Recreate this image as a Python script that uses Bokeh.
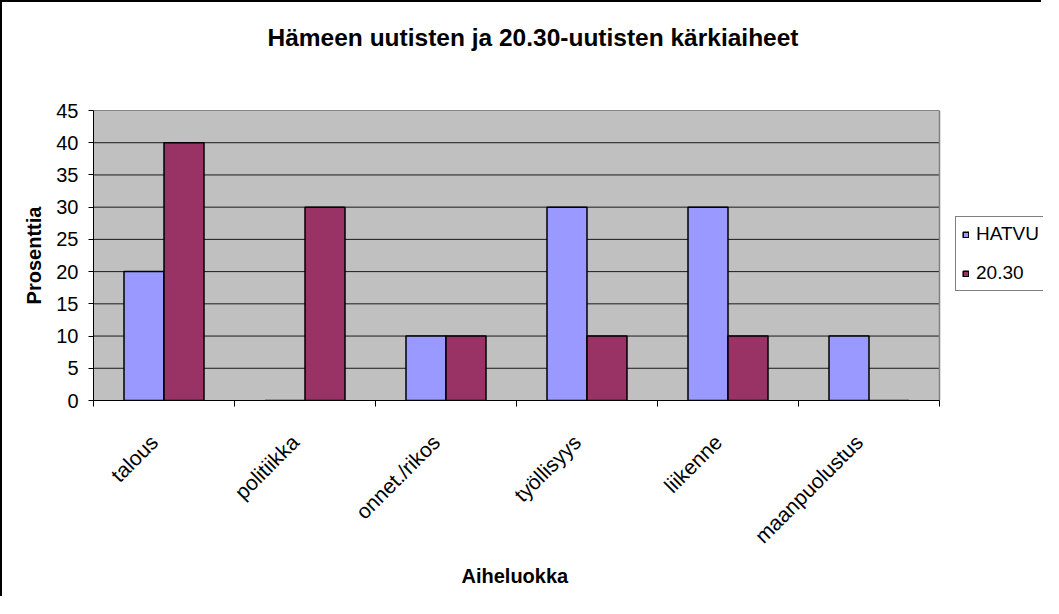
import numpy as np
from math import pi
from bokeh.plotting import figure
from bokeh.models import (ColumnDataSource, FixedTicker, Legend, LegendItem,
                          Range1d, Title)
from bokeh.transform import dodge
from bokeh.embed import file_html
from bokeh.resources import INLINE

# ---- data ----
categories = ["talous", "politiikka", "onnet./rikos", "työllisyys",
              "liikenne", "maanpuolustus"]
hatvu = [20, 0, 10, 30, 30, 10]
uutiset_2030 = [40, 30, 10, 10, 10, 0]
series_names = ["HATVU", "20.30"]
y_ticks = [0, 5, 10, 15, 20, 25, 30, 35, 40, 45]
title_text = "Hämeen uutisten ja 20.30-uutisten kärkiaiheet"
x_title = "Aiheluokka"
y_title = "Prosenttia"

FONT = "Liberation Sans"
n = len(categories)
ymax = y_ticks[-1]
centers = [i + 0.5 for i in range(n)]
label_shift = 0.07  # labels end slightly left of the category centre
label_pos = [c - label_shift for c in centers]

# layout (pixels)
W, H = 1041, 596
LEFT, TOP, BOTTOM = 91, 108, 198
PLOT_W = 846                      # width of the grey plot area
FRAME_W = W - LEFT                # frame runs to the right edge (legend lives there)
x_end = n * FRAME_W / PLOT_W

src = ColumnDataSource(dict(cat=categories, x=centers, hatvu=hatvu,
                            u2030=uutiset_2030))

p = figure(width=W, height=H, x_range=Range1d(0, x_end),
           y_range=Range1d(0, ymax), output_backend="svg",
           toolbar_location=None, min_border_left=LEFT, min_border_right=0,
           min_border_top=TOP, min_border_bottom=BOTTOM)
p.styles = {"border-left": "2px solid black", "border-top": "2px solid black"}

p.background_fill_color = "white"
p.border_fill_color = "white"
p.outline_line_color = None
p.xgrid.visible = False
p.ygrid.visible = False

# grey plot area, grid lines and right edge
p.quad(left=0, right=n, bottom=0, top=ymax, fill_color="#C0C0C0",
       line_color=None)
p.segment(x0=[0] * len(y_ticks), x1=[n] * len(y_ticks), y0=y_ticks,
          y1=y_ticks, line_color="#1a1a1a", line_width=1)
p.segment(x0=[n], x1=[n], y0=[0], y1=[ymax], line_color="#808080",
          line_width=1.5)

# thin spacer next to the frame, then the real title above it
p.title.text = ""
spacer_title = Title(text=" ", text_font_size="2px", standoff=40,
                     text_color="white")
p.add_layout(spacer_title, "above")
main_title = Title(text=title_text, align="left", offset=174, standoff=32,
                   text_font=FONT, text_font_size="24.5px",
                   text_font_style="bold", text_color="black")
p.add_layout(main_title, "above")

bw = 0.2837
r1 = p.vbar(x=dodge("x", -bw / 2), top="hatvu", width=bw, source=src,
            fill_color="#9999FF", line_color="black", line_width=1.5)
r2 = p.vbar(x=dodge("x", bw / 2), top="u2030", width=bw, source=src,
            fill_color="#993366", line_color="black", line_width=1.5)

# y axis
ya = p.yaxis[0]
ya.ticker = FixedTicker(ticks=y_ticks)
ya.major_tick_out = 5
ya.major_tick_in = 0
ya.minor_tick_out = 0
ya.axis_line_color = "black"
ya.major_label_text_font = FONT
ya.major_label_text_font_size = "20px"
ya.major_label_text_color = "black"
ya.major_label_standoff = 10
ya.axis_label = y_title
ya.axis_label_text_font = FONT
ya.axis_label_text_font_size = "20px"
ya.axis_label_text_font_style = "bold"
ya.axis_label_text_color = "black"
ya.axis_label_standoff = 8

# x axis
xa = p.xaxis[0]
xa.bounds = (0, n)
xa.ticker = FixedTicker(ticks=label_pos, minor_ticks=list(range(n + 1)))
xa.major_label_overrides = {c: lab for c, lab in zip(label_pos, categories)}
xa.major_tick_out = 0
xa.major_tick_in = 0
xa.minor_tick_out = 6
xa.minor_tick_in = 0
xa.minor_tick_line_color = "black"
xa.axis_line_color = "black"
xa.major_label_orientation = pi / 4
xa.major_label_text_font = FONT
xa.major_label_text_font_size = "21px"
xa.major_label_text_color = "black"
xa.major_label_standoff = 32

# x axis title, centred under the grey plot area
x_title_obj = Title(text=x_title, align="left", offset=368, standoff=8,
                    text_font=FONT, text_font_size="20px",
                    text_font_style="bold", text_color="black")
p.add_layout(x_title_obj, "below")

legend = Legend(items=[LegendItem(label=series_names[0], renderers=[r1]),
                       LegendItem(label=series_names[1], renderers=[r2])],
                location=(PLOT_W + 16, 109))
legend.label_text_font = FONT
legend.label_text_font_size = "19px"
legend.label_text_color = "black"
legend.label_height = 20
legend.glyph_width = 7
legend.glyph_height = 7
legend.label_standoff = 7
legend.padding = 6
legend.spacing = 17
legend.margin = 0
legend.border_line_color = "black"
legend.border_line_width = 1
legend.background_fill_color = "white"
legend.background_fill_alpha = 1
p.add_layout(legend)

open("out.html", "w").write(file_html(p, INLINE))
